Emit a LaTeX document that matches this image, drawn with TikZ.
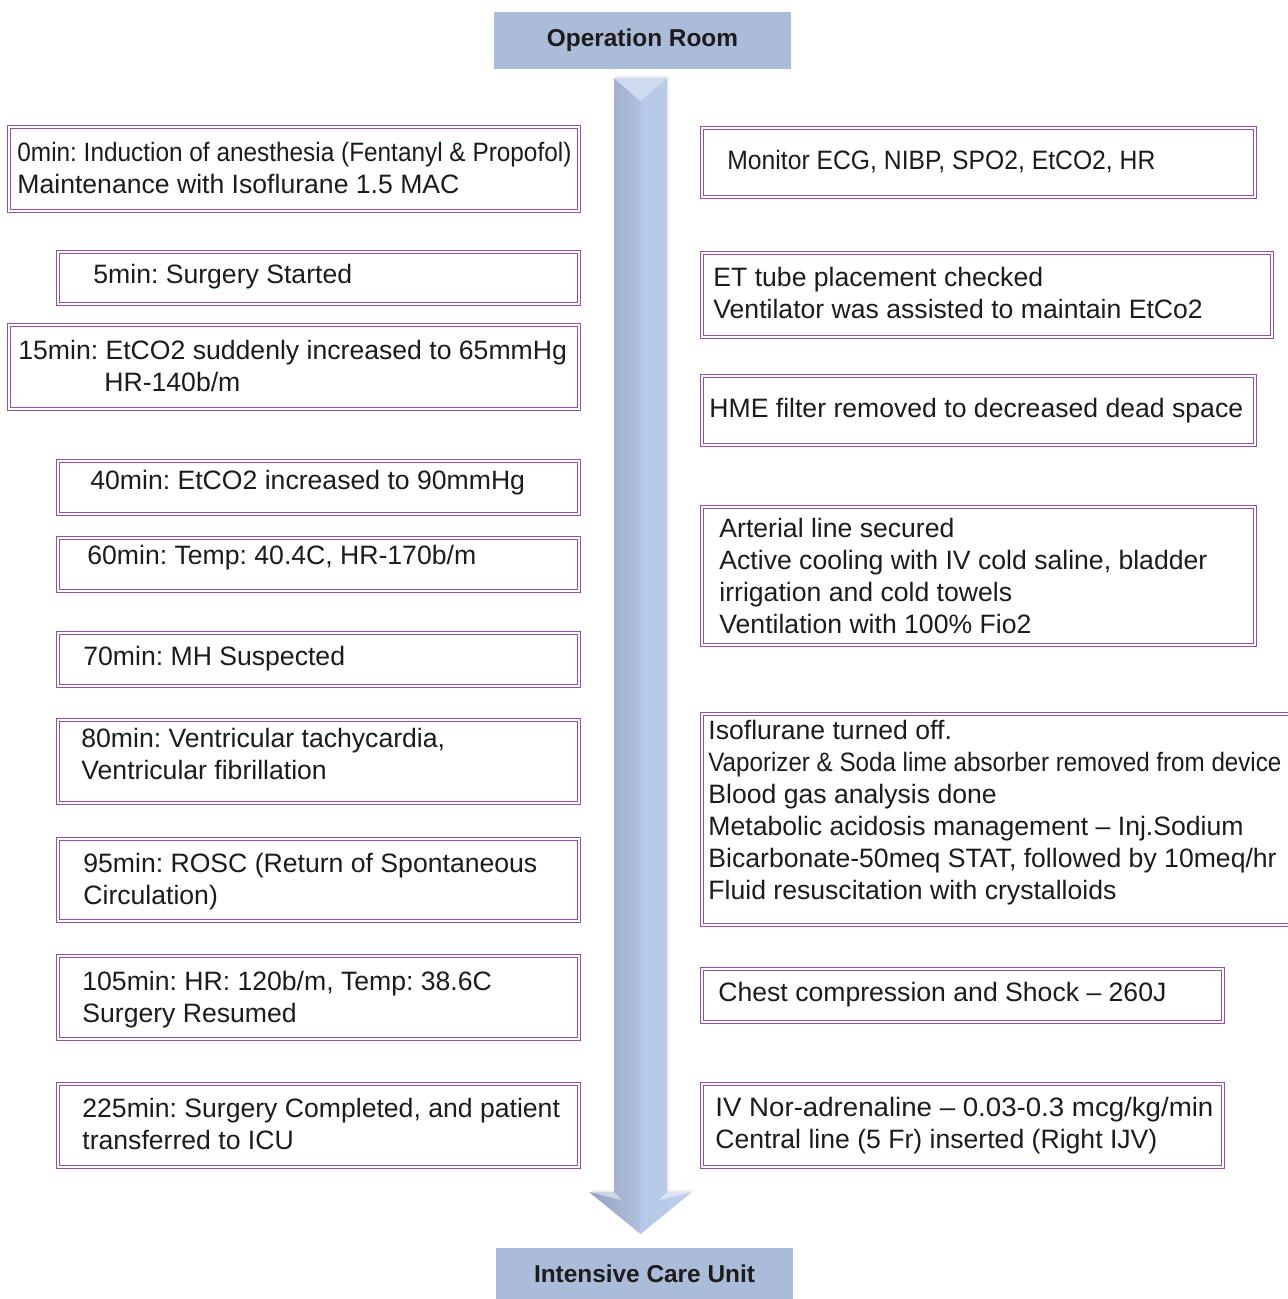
\documentclass[tikz,border=0pt]{standalone}
\usepackage{fontspec}
\setmainfont{Liberation Sans}
\frenchspacing
\usetikzlibrary{fit}
\definecolor{purp}{RGB}{145,80,175}
\definecolor{hdr}{RGB}{171,188,219}
\definecolor{txtc}{RGB}{30,27,28}
\definecolor{shaftL}{RGB}{158,176,210}
\definecolor{shaftR}{RGB}{180,199,231}
\definecolor{shaftT}{RGB}{205,218,240}
\newcommand\fitw[2]{\resizebox{#1}{\height}{#2}}
\tikzset{
  box/.style={draw=purp, double=white, double distance=0.9pt, line width=0.55pt, inner sep=0pt, fill=none},
  txt/.style={font=\fontsize{13.3}{16}\selectfont, text=txtc, inner sep=0pt, align=left, anchor=base west},
  hbox/.style={fill=hdr, inner sep=0pt},
  htxt/.style={font=\fontsize{12.2}{14}\selectfont\bfseries, text=txtc, inner sep=0pt},
}
\begin{document}
\begin{tikzpicture}[x=0.5pt,y=-0.5pt]
\useasboundingbox (0,0) rectangle (1287,1299);
\fill[white] (0,0) rectangle (1287,1299);
% headers
\node[hbox, fit={(494,12)(791,69)}] (OR) {};
\node[htxt] (ORt) at (OR.center) {Operation Room};
\node[hbox, fit={(496,1248)(793,1299)}] (ICU) {};
\node[htxt] (ICUt) at (ICU.center) {Intensive Care Unit};
% big arrow
\coordinate (aTL) at (614,78);
\coordinate (aTR) at (667,78);
\coordinate (aN) at (640.5,101);
\coordinate (aBL) at (614,1192);
\coordinate (aBR) at (667,1192);
\coordinate (aWL) at (589,1192);
\coordinate (aWR) at (692,1192);
\coordinate (aTip) at (640.5,1234);
\fill[black!15, opacity=0.4] ([xshift=1,yshift=1]aTL) -- ([xshift=1,yshift=1]aTR) -- ([xshift=1,yshift=1]aBR) -- ([xshift=1,yshift=1]aWR) -- ([xshift=1,yshift=1]aTip) -- ([xshift=1,yshift=1]aWL) -- ([xshift=1,yshift=1]aBL) -- cycle;
\shade[left color=shaftL!92!black, right color=shaftL!80!white] (aTL) -- (aN) -- (aTip) -- (aWL) -- (aBL) -- cycle;
\shade[left color=shaftR, right color=shaftR!85!white] (aTR) -- (aN) -- (aTip) -- (aWR) -- (aBR) -- cycle;
\fill[shaftT] (aTL) -- (aTR) -- (aN) -- cycle;
\fill[white, opacity=0.5] (aWL) -- (aBL) -- (622,1200) -- cycle;
\fill[white, opacity=0.5] (aWR) -- (aBR) -- (659,1200) -- cycle;
% left boxes
\node[box, fit={(9,127)(579,211)}] (L1) {};
\node[txt] (L1t) at (17,194) {\fitw{277pt}{0min: Induction of anesthesia (Fentanyl \& Propofol)}\\Maintenance with Isoflurane 1.5 MAC};
\node[box, fit={(58,252)(579,304)}] (L2) {};
\node[txt] (L2t) at (93,284) {5min: Surgery Started};
\node[box, fit={(9,325)(579,409)}] (L3) {};
\node[txt] (L3t) at (18,391) {15min: EtCO2 suddenly increased to 65mmHg\\\hspace*{43pt}HR-140b/m};
\node[box, fit={(58,461)(579,514)}] (L4) {};
\node[txt] (L4t) at (90,489) {40min: EtCO2 increased to 90mmHg};
\node[box, fit={(58,538)(579,591)}] (L5) {};
\node[txt] (L5t) at (87,564) {60min: Temp: 40.4C, HR-170b/m};
\node[box, fit={(58,633)(579,686)}] (L6) {};
\node[txt] (L6t) at (83,665) {70min: MH Suspected};
\node[box, fit={(58,720)(579,803)}] (L7) {};
\node[txt] (L7t) at (81,779) {80min: Ventricular tachycardia,\\Ventricular fibrillation};
\node[box, fit={(58,839)(579,921)}] (L8) {};
\node[txt] (L8t) at (83,904) {95min: ROSC (Return of Spontaneous\\Circulation)};
\node[box, fit={(58,956)(579,1039)}] (L9) {};
\node[txt] (L9t) at (82,1022) {105min: HR: 120b/m, Temp: 38.6C\\Surgery Resumed};
\node[box, fit={(58,1084)(579,1167)}] (L10) {};
\node[txt] (L10t) at (82,1149) {225min: Surgery Completed, and patient\\transferred to ICU};
% right boxes
\node[box, fit={(702,128)(1255,197)}] (R1) {};
\node[txt] (R1t) at (727,170) {\fitw{214pt}{Monitor ECG, NIBP, SPO2, EtCO2, HR}};
\node[box, fit={(702,253)(1272,337)}] (R2) {};
\node[txt] (R2t) at (713,319) {ET tube placement checked\\Ventilator was assisted to maintain EtCo2};
\node[box, fit={(702,376)(1255,445)}] (R3) {};
\node[txt] (R3t) at (709,417) {HME filter removed to decreased dead space};
\node[box, fit={(702,507)(1255,645)}] (R4) {};
\node[txt] (R4t) at (719,633) {Arterial line secured\\Active cooling with IV cold saline, bladder\\irrigation and cold towels\\Ventilation with 100\% Fio2};
\node[box, fit={(702,714)(1300,925)}] (R5) {};
\node[txt] (R5t) at (708,899) {Isoflurane turned off.\\\fitw{286.5pt}{Vaporizer \& Soda lime absorber removed from device}\\Blood gas analysis done\\Metabolic acidosis management -- Inj.Sodium\\Bicarbonate-50meq STAT, followed by 10meq/hr\\Fluid resuscitation with crystalloids};
\node[box, fit={(702,969)(1223,1022)}] (R6) {};
\node[txt] (R6t) at (718,1001) {Chest compression and Shock -- 260J};
\node[box, fit={(702,1084)(1223,1167)}] (R7) {};
\node[txt] (R7t) at (715,1148) {\fitw{249pt}{IV Nor-adrenaline -- 0.03-0.3 mcg/kg/min}\\Central line (5 Fr) inserted (Right IJV)};
\end{tikzpicture}
\end{document}
